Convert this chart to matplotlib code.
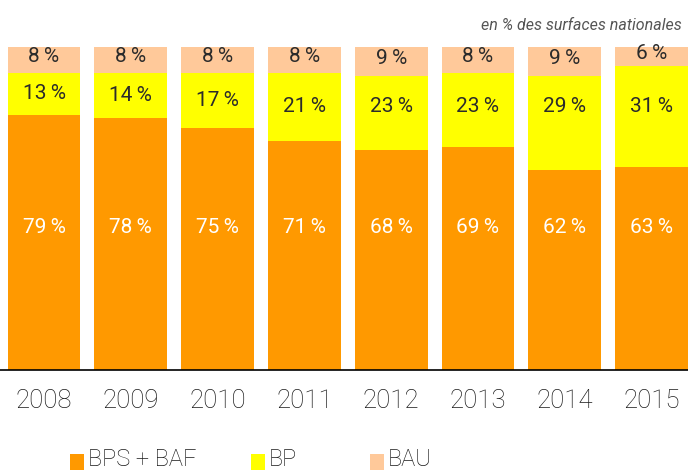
import matplotlib
matplotlib.use("Agg")
import matplotlib.pyplot as plt
from matplotlib.patches import Rectangle

years = ["2008", "2009", "2010", "2011", "2012", "2013", "2014", "2015"]
bps_baf = [79, 78, 75, 71, 68, 69, 62, 63]
bp = [13, 14, 17, 21, 23, 23, 29, 31]
bau = [8, 8, 8, 8, 9, 8, 9, 6]
series_names = ["BPS + BAF", "BP", "BAU"]
colors = ["#FF9900", "#FFFF00", "#FFC99A"]
subtitle = "en % des surfaces nationales"

FONT = ["Roboto", "DejaVu Sans"]
plt.rcParams["font.family"] = FONT
TXT = "#2b2b2b"

fig = plt.figure(figsize=(6.88, 4.70), dpi=100)
ax = fig.add_axes([0, 1 - 370 / 470, 1, 323 / 470])

x = list(range(len(years)))
w = 0.84
ax.bar(x, bps_baf, width=w, color=colors[0], linewidth=0)
ax.bar(x, bp, width=w, bottom=bps_baf, color=colors[1], linewidth=0)
bot2 = [a + b for a, b in zip(bps_baf, bp)]
ax.bar(x, bau, width=w, bottom=bot2, color=colors[2], linewidth=0)

lab_kw = dict(ha="center", va="center", fontsize=15, color=TXT)
for i in x:
    ax.text(i, 44, f"{bps_baf[i]}\u2009%", color="white", ha="center", va="center", fontsize=15)
    yc = max(bps_baf[i] + bp[i] / 2, 81.5)
    ax.text(i, yc, f"{bp[i]}\u2009%", **lab_kw)
    ax.text(i, bot2[i] + bau[i] / 2 + 1.0, f"{bau[i]}\u2009%", **lab_kw)

ax.set_xlim(-0.507, 7.42)
ax.set_ylim(0, 100)
for s in ["top", "left", "right"]:
    ax.spines[s].set_visible(False)
ax.spines["bottom"].set_color("black")
ax.spines["bottom"].set_linewidth(1.2)
ax.set_yticks([])
ax.set_xticks(x)
ax.set_xticklabels(years, fontsize=18.5, color="#1a1a1a", fontweight="light")
ax.tick_params(axis="x", length=0, pad=14)

fig.text(682 / 688, 1 - 26 / 470, subtitle, ha="right", va="center",
         fontsize=11.5, style="italic", color="#555555")

# legend
leg_sq = [70, 251, 370]
for xs, name, c in zip(leg_sq, series_names, colors):
    fig.patches.append(Rectangle((xs / 688, 1 - 470 / 470), 14 / 688, 16 / 470,
                                 transform=fig.transFigure, color=c, linewidth=0))
    fig.text((xs + 18) / 688, 1 - 459 / 470, name, ha="left", va="center",
             fontsize=17, color="#1a1a1a", fontweight="light")

fig.savefig("out.png", dpi=100)
